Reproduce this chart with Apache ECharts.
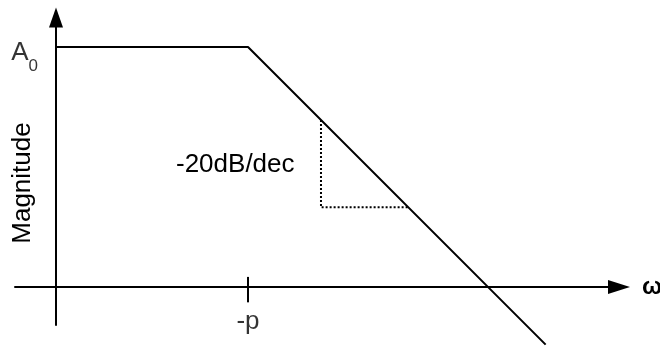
<!DOCTYPE html>
<html lang="en">
<head>
    <meta charset="UTF-8">
    <title>Bode magnitude</title>
    <style>
        html, body {
            margin: 0;
            padding: 0;
            width: 100%;
            height: 100%;
            background: #fff;
            overflow: hidden;
        }
        #chart {
            width: 660px;
            height: 350px;
        }
    </style>
</head>
<body>
    <div id="chart"></div>

<script type="text/javascript" src="https://cdn.jsdelivr.net/npm/echarts@6/dist/echarts.min.js"></script>
<script type="text/javascript">

    // asymptotic magnitude: x in decades, y in dB
    var freq = [0, 1, 2.55];
    var mag = [25, 25, -6];
    // -20dB/dec slope triangle
    var triX = [1.38, 1.38, 1.835];
    var triY = [17.4, 8.3, 8.3];
    // tick at the pole
    var poleX = [1, 1];
    var poleY = [1.05, -1.6];
    // axis value labels
    var labelNames = ['A0', '-p'];
    var labelX = [0, 1];
    var labelY = [25, -1.6];

    var FONT = "'Liberation Sans', Arial, sans-serif";

    function pairs(xs, ys) {
        return xs.map(function (x, i) { return [x, ys[i]]; });
    }

    var chart = echarts.init(document.getElementById('chart'));

    var option = {
        animation: false,
        backgroundColor: '#fff',
        grid: {
            left: 15,
            right: 41,
            top: 17.5,
            bottom: 25,
            containLabel: false,
            outerBoundsMode: 'none'
        },
        xAxis: {
            type: 'value',
            min: -0.2135,
            max: 2.932,
            name: 'ω',
            nameLocation: 'end',
            nameGap: 23,
            nameTextStyle: {
                fontFamily: FONT,
                fontSize: 24,
                fontWeight: 'bold',
                color: '#000',
                padding: [0, 0, 26, 0]
            },
            splitLine: { show: false },
            axisTick: { show: false },
            axisLabel: { show: false },
            axisLine: {
                onZero: true,
                symbol: ['none', 'triangle'],
                symbolSize: [14, 22],
                lineStyle: { color: '#000', width: 2 }
            }
        },
        yAxis: {
            type: 'value',
            min: -3.96,
            max: 28.07,
            splitLine: { show: false },
            axisTick: { show: false },
            axisLabel: { show: false },
            axisLine: {
                onZero: true,
                symbol: ['none', 'triangle'],
                symbolSize: [14, 20],
                lineStyle: { color: '#000', width: 2 }
            }
        },
        graphic: [{
            type: 'text',
            x: 23,
            y: 183,
            rotation: Math.PI / 2,
            style: {
                text: 'Magnitude',
                fontFamily: FONT,
                fontSize: 26,
                fill: '#000',
                textAlign: 'center',
                textVerticalAlign: 'middle'
            }
        }, {
            type: 'text',
            x: 176,
            y: 165,
            style: {
                text: '-20dB/dec',
                fontFamily: FONT,
                fontSize: 26,
                fill: '#000',
                textAlign: 'left',
                textVerticalAlign: 'middle'
            }
        }],
        series: [{
            type: 'line',
            data: pairs(freq, mag),
            symbol: 'none',
            clip: false,
            lineStyle: { color: '#000', width: 2 }
        }, {
            type: 'line',
            data: pairs(triX, triY),
            symbol: 'none',
            clip: false,
            lineStyle: { color: '#000', width: 2, type: [2, 2] }
        }, {
            type: 'line',
            data: pairs(poleX, poleY),
            symbol: 'none',
            clip: false,
            lineStyle: { color: '#000', width: 2 }
        }, {
            type: 'scatter',
            symbolSize: 0,
            clip: false,
            silent: true,
            itemStyle: { color: '#000' },
            data: [{
                value: [labelX[0], labelY[0]],
                label: {
                    show: true,
                    position: [-18, 6],
                    align: 'right',
                    verticalAlign: 'middle',
                    formatter: '{a|A}{s|0}',
                    color: '#000',
                    textBorderWidth: 0,
                    rich: {
                        a: { fontFamily: FONT, fontSize: 26, color: '#000' },
                        s: { fontFamily: FONT, fontSize: 17, color: '#000', padding: [26, 0, 0, 0] }
                    }
                }
            }, {
                value: [labelX[1], labelY[1]],
                label: {
                    show: true,
                    position: 'bottom',
                    distance: 6,
                    formatter: labelNames[1],
                    fontFamily: FONT,
                    fontSize: 26,
                    color: '#000',
                    textBorderWidth: 0
                }
            }]
        }]
    };

    chart.setOption(option);

</script>
</body>
</html>
